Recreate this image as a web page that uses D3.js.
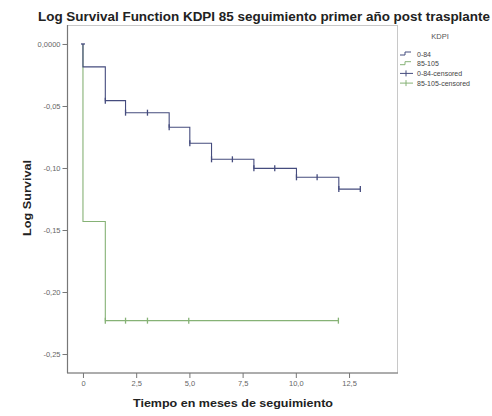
<!DOCTYPE html>
<html>
<head>
<meta charset="utf-8">
<script src="https://cdn.jsdelivr.net/npm/d3@7"></script>
<style>
html,body{margin:0;padding:0;background:#fff;}
svg{display:block;font-family:"Liberation Sans",Arial,sans-serif;}
</style>
</head>
<body>
<svg id="chart" width="492" height="416"></svg>
<script>
// ---- data ----
const title = "Log Survival Function KDPI 85 seguimiento primer año post trasplante";
const xTitle = "Tiempo en meses de seguimiento";
const yTitle = "Log Survival";
const legendTitle = "KDPI";
const groups = ["0-84", "85-105"];
const legendLabels = ["0-84", "85-105", "0-84-censored", "85-105-censored"];
const xTicks = [0, 2.5, 5, 7.5, 10, 12.5];
const xTickLabels = ["0", "2,5", "5,0", "7,5", "10,0", "12,5"];
const yTicks = [0, -0.05, -0.10, -0.15, -0.20, -0.25];
const yTickLabels = ["0,0000", "-0,05", "-0,10", "-0,15", "-0,20", "-0,25"];

// group 0-84: step times and log survival after each step
const blueTimes = [0, 0, 1.05, 2.0, 4.05, 5.02, 6.04, 8.03, 10.03, 12.02];
const blueValues = [0, -0.0185, -0.0457, -0.0554, -0.0672, -0.0800, -0.0930, -0.1003, -0.1075, -0.1170];
const blueEnd = 13.03;
const blueCensTimes = [1.05, 2.0, 3.03, 4.05, 5.02, 6.04, 7.02, 8.03, 9.01, 10.03, 11.0, 12.02, 13.03];

// group 85-105
const greenTimes = [0, 0, 1.05];
const greenValues = [0, -0.1431, -0.2231];
const greenEnd = 12.0;
const greenCensTimes = [1.05, 2.0, 3.03, 4.97, 12.0];

const colors = ["#454c7e", "#86b276"];

// ---- layout ----
const svg = d3.select("#chart");
const x = d3.scaleLinear().domain([-0.75, 14.8]).range([67, 398]);
const y = d3.scaleLinear().domain([0.0153, -0.2653]).range([25, 373]);

// plot frame
svg.append("rect").attr("x", 67.5).attr("y", 25.5).attr("width", 330).attr("height", 347.5)
  .attr("fill", "#fff").attr("stroke", "#c8c8c8").attr("stroke-width", 1);

// axes
const xAxis = d3.axisBottom(x).tickValues(xTicks).tickFormat((d, i) => xTickLabels[i]).tickSize(5).tickPadding(3);
const gx = svg.append("g").attr("transform", "translate(0,373)").call(xAxis);
const yAxis = d3.axisLeft(y).tickValues(yTicks).tickFormat((d, i) => yTickLabels[i]).tickSize(5).tickPadding(2);
const gy = svg.append("g").attr("transform", "translate(67.5,0)").call(yAxis);
[gx, gy].forEach(g => {
  g.select(".domain").attr("stroke", "#777").attr("stroke-width", 1.2);
  g.selectAll(".tick line").attr("stroke", "#777");
  g.selectAll(".tick text").attr("fill", "#666").attr("font-size", 7.5).attr("font-family", "Liberation Sans, Arial, sans-serif");
});
gy.select(".domain").attr("d", "M0,25V373");
gx.select(".domain").attr("d", "M67,0H398");

// step curve builder
function stepPath(times, values, end) {
  const pts = [];
  for (let i = 0; i < times.length; i++) {
    if (i > 0) pts.push([times[i], values[i - 1]]);
    pts.push([times[i], values[i]]);
  }
  pts.push([end, values[values.length - 1]]);
  return d3.line().x(d => x(d[0])).y(d => y(d[1]))(pts);
}
function valueAt(times, values, t) {
  let v = values[0];
  for (let i = 0; i < times.length; i++) if (times[i] <= t) v = values[i];
  return v;
}

const series = [
  {times: blueTimes, values: blueValues, end: blueEnd, cens: blueCensTimes, color: colors[0]},
  {times: greenTimes, values: greenValues, end: greenEnd, cens: greenCensTimes, color: colors[1]}
];

// draw green first so blue appears on top
series.slice().reverse().forEach(s => {
  svg.append("path").attr("d", stepPath(s.times, s.values, s.end))
    .attr("fill", "none").attr("stroke", s.color).attr("stroke-width", 1.1);
  svg.selectAll(null).data(s.cens).enter().append("line")
    .attr("x1", d => x(d)).attr("x2", d => x(d))
    .attr("y1", d => y(valueAt(s.times, s.values, d)) - 3)
    .attr("y2", d => y(valueAt(s.times, s.values, d)) + 3)
    .attr("stroke", s.color).attr("stroke-width", 1.3);
});
// starting mark
svg.append("line").attr("x1", x(0) - 2).attr("x2", x(0) + 2).attr("y1", y(0)).attr("y2", y(0))
  .attr("stroke", colors[0]).attr("stroke-width", 1.3);

// titles
svg.append("text").attr("x", 38).attr("y", 21).attr("font-size", 12).attr("font-weight", "bold")
  .attr("fill", "#222").attr("textLength", 452).attr("lengthAdjust", "spacingAndGlyphs").text(title);
svg.append("text").attr("x", 233).attr("y", 407).attr("text-anchor", "middle").attr("font-size", 10.5)
  .attr("font-weight", "bold").attr("fill", "#222").attr("textLength", 200).attr("lengthAdjust", "spacingAndGlyphs").text(xTitle);
svg.append("text").attr("transform", "translate(31,198) rotate(-90)").attr("text-anchor", "middle")
  .attr("font-size", 10.5).attr("font-weight", "bold").attr("fill", "#222").attr("textLength", 76).attr("lengthAdjust", "spacingAndGlyphs").text(yTitle);

// legend
svg.append("text").attr("x", 440).attr("y", 39).attr("text-anchor", "middle").attr("font-size", 7.5)
  .attr("fill", "#555").text(legendTitle);
const lg = svg.append("g");
legendLabels.forEach((lab, i) => {
  const yy = 54 + i * 9.7;
  const c = colors[i % 2];
  if (i < 2) {
    lg.append("path").attr("d", `M400,${yy + 1}H405V${yy - 2}H411`).attr("fill", "none")
      .attr("stroke", c).attr("stroke-width", 1);
  } else {
    lg.append("line").attr("x1", 400).attr("x2", 413).attr("y1", yy).attr("y2", yy).attr("stroke", c);
    lg.append("line").attr("x1", 406).attr("x2", 406).attr("y1", yy - 3).attr("y2", yy + 3).attr("stroke", c);
  }
  lg.append("text").attr("x", 417).attr("y", yy + 2.5).attr("font-size", 7).attr("fill", "#444").text(lab);
});
</script>
</body>
</html>
